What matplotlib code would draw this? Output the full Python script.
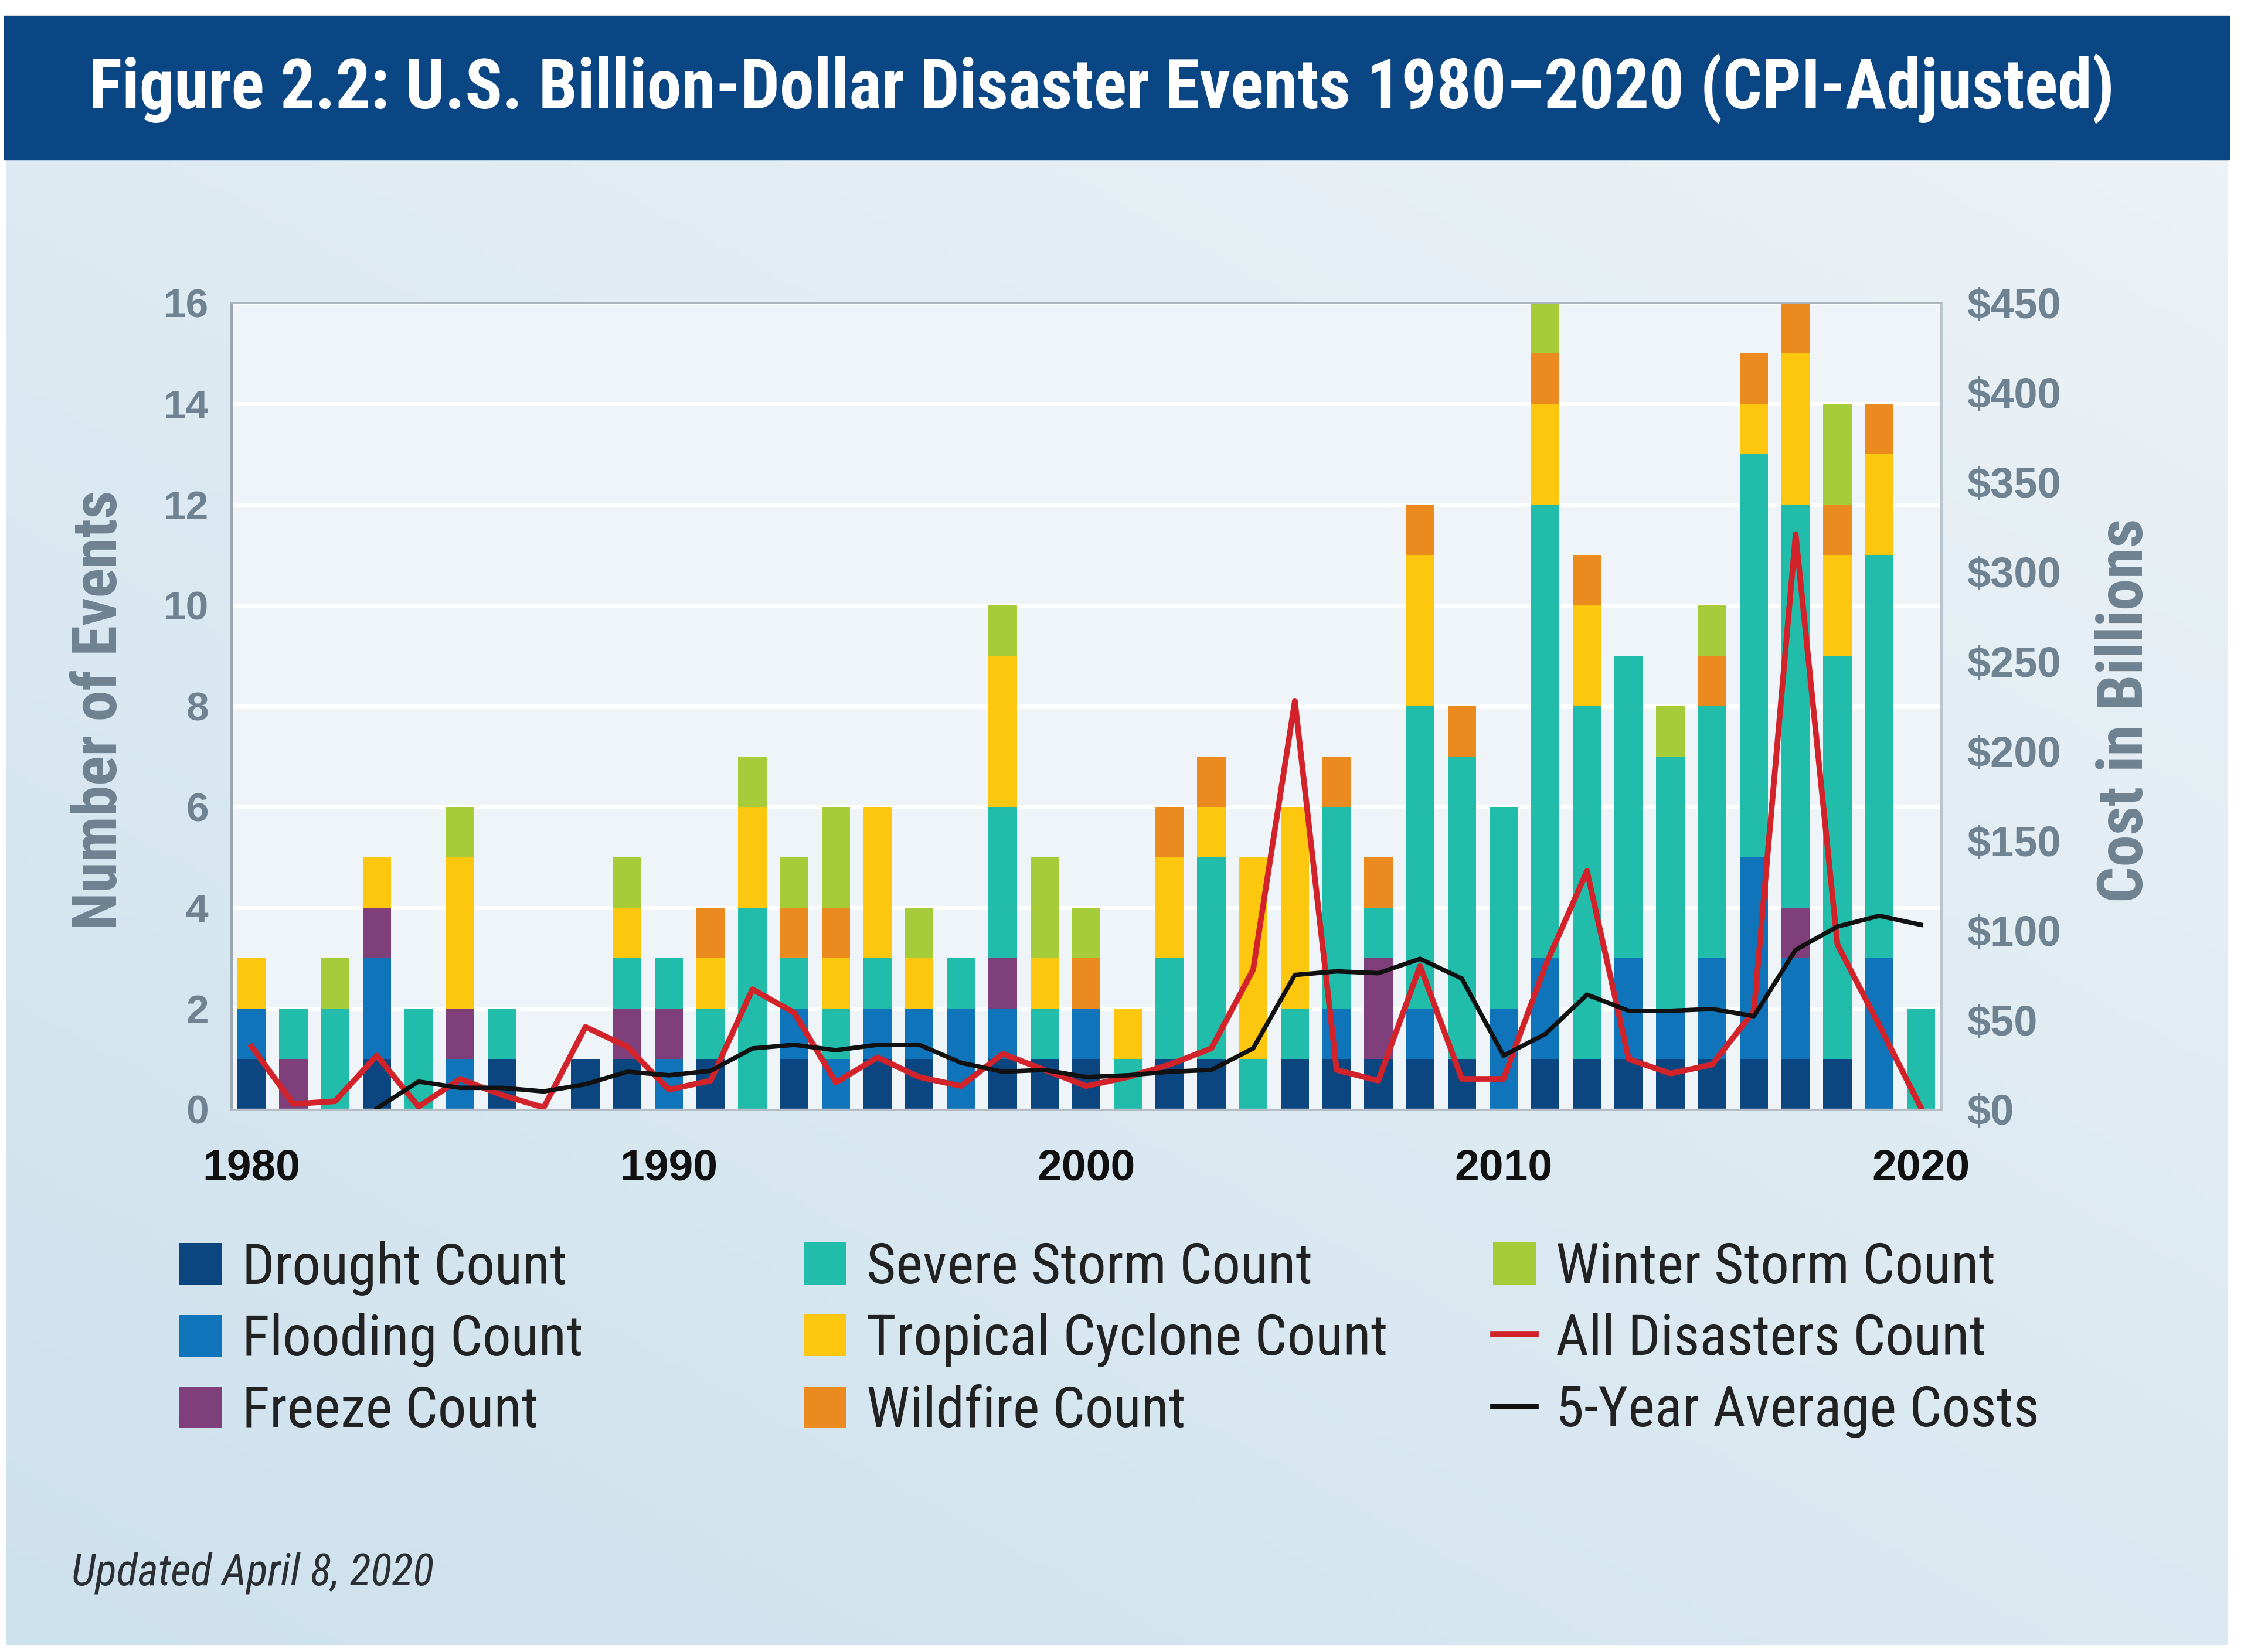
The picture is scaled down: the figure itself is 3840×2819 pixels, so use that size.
import numpy as np
import matplotlib
matplotlib.use("Agg")
from matplotlib import pyplot as plt
from matplotlib import font_manager
from matplotlib.patches import Patch, Rectangle
from matplotlib.lines import Line2D
from matplotlib.colors import LinearSegmentedColormap

# ---- data ----
years = list(range(1980, 2021))

drought  = [1,0,0,1,0,0,1,0,1,1, 0,1,0,1,0,1,1,0,1,1, 1,0,1,1,0,1,1,1,1,1, 0,1,1,1,1,1,1,1,1,0, 0]
flooding = [1,0,0,2,0,1,0,0,0,0, 1,0,0,1,1,1,1,2,1,0, 1,0,0,0,0,0,1,0,1,0, 2,2,0,2,1,2,4,2,0,3, 0]
freeze   = [0,1,0,1,0,1,0,0,0,1, 1,0,0,0,0,0,0,0,1,0, 0,0,0,0,0,0,0,2,0,0, 0,0,0,0,0,0,0,1,0,0, 0]
severe   = [0,1,2,0,2,0,1,0,0,1, 1,1,4,1,1,1,0,1,3,1, 0,1,2,4,1,1,4,1,6,6, 4,9,7,6,5,5,8,8,8,8, 2]
tropical = [1,0,0,1,0,3,0,0,0,1, 0,1,2,0,1,3,1,0,3,1, 0,1,2,1,4,4,0,0,3,0, 0,2,2,0,0,0,1,3,2,2, 0]
wildfire = [0,0,0,0,0,0,0,0,0,0, 0,1,0,1,1,0,0,0,0,0, 1,0,1,1,0,0,1,1,1,1, 0,1,1,0,0,1,1,1,1,1, 0]
winter   = [0,0,1,0,0,1,0,0,0,1, 0,0,1,1,2,0,1,0,1,2, 1,0,0,0,0,0,0,0,0,0, 0,1,0,0,1,1,0,0,2,0, 0]

# costs in billions of dollars (right axis)
all_costs = [35, 3, 4.5, 30, 1.5, 17, 8, 1, 46, 35,
             11, 16, 67, 54, 15, 29, 18, 13, 31, 22,
             13, 18, 25, 34, 78, 228, 22, 16, 80, 17,
             17, 80, 133, 28, 20, 25, 55, 321, 92, 47,
             1]
avg5_costs = [np.nan, np.nan, np.nan, 0.5, 15.5, 12, 12, 10, 14, 21,
              19, 21.5, 34, 36, 33, 36, 36, 26, 21, 22,
              18, 19, 21, 22, 34, 75, 77, 76, 84, 73,
              30, 42, 64, 55, 55, 56, 52, 89, 102, 108,
              103]

series = [("Drought Count", drought, "#0b4680"),
          ("Flooding Count", flooding, "#1074bb"),
          ("Freeze Count", freeze, "#7f3f7a"),
          ("Severe Storm Count", severe, "#21bcaa"),
          ("Tropical Cyclone Count", tropical, "#fdc60f"),
          ("Wildfire Count", wildfire, "#ea8a1f"),
          ("Winter Storm Count", winter, "#a6cc3a")]

title = "Figure 2.2: U.S. Billion-Dollar Disaster Events 1980\u20132020 (CPI-Adjusted)"

# ---- fonts ----
names = {f.name for f in font_manager.fontManager.ttflist}
narrow = next((n for n in ["Liberation Sans Narrow", "Roboto Condensed", "Open Sans Condensed"] if n in names), None)
if narrow is not None:
    cond = dict(family=[narrow, "DejaVu Sans"])
else:
    cond = dict(family=["DejaVu Sans"], fontstretch="condensed")
wide = ["Liberation Sans", "DejaVu Sans"]

W, H = 3840, 2819
fig = plt.figure(figsize=(W / 100, H / 100), dpi=100, facecolor="white")

def fx(px):
    return px / W

def fy(py):
    return 1 - py / H

# background panel with soft gradient
bg = fig.add_axes([fx(10), fy(2807), fx(3790), (2807 - 272) / H])
gx, gy = np.meshgrid(np.linspace(0, 1, 200), np.linspace(0, 1, 200))
grad = 0.45 * (1 - gx) + 0.55 * (1 - gy)
cmap = LinearSegmentedColormap.from_list("bg", ["#ecf2f6", "#cde1ed"])
bg.imshow(grad, cmap=cmap, aspect="auto", extent=[0, 1, 0, 1], origin="lower")
bg.axis("off")

# title banner
fig.patches.append(Rectangle((fx(7), fy(272)), fx(3796), (272 - 27) / H,
                             transform=fig.transFigure, color="#0b4684", zorder=1))
fig.text(fx(1880), fy(152), title, color="white", fontsize=85, fontweight="bold",
         ha="center", va="center", **cond)

# ---- main chart ----
ax = fig.add_axes([fx(395), fy(1893), fx(3311 - 395), (1893 - 517) / H])
ax.set_facecolor("#eef4f7")
x = np.array(years)
bottom = np.zeros(len(years))
for label, vals, color in series:
    ax.bar(x, vals, width=0.68, bottom=bottom, color=color, label=label, zorder=2)
    bottom += np.array(vals)

ax.set_xlim(1979.52, 2020.48)
ax.set_ylim(0, 16)
ax.set_yticks(range(0, 17, 2))
ax.set_xticks([1980, 1990, 2000, 2010, 2020])
ax.set_axisbelow(True)
ax.yaxis.grid(True, color="white", lw=5)
ax.tick_params(axis="both", length=0)
ax.tick_params(axis="y", pad=28, labelsize=50, labelcolor="#6e8291")
ax.tick_params(axis="x", pad=48, labelsize=54, labelcolor="#111111")
for t in ax.get_yticklabels():
    t.set_fontweight("bold")
    t.set_family(wide)
for t in ax.get_xticklabels():
    t.set_fontweight("bold")
    t.set_family(wide)

for side, c, lw in [("left", "#9aa7b1", 3.5), ("right", "#b9c4cc", 3.5),
                    ("top", "#aab5bd", 1.5), ("bottom", "#b4bdc5", 2.5)]:
    ax.spines[side].set_color(c)
    ax.spines[side].set_linewidth(lw)

ax2 = ax.twinx()
ax2.set_ylim(0, 450)
ax2.set_yticks(range(0, 451, 50))
ax2.set_yticklabels(["$%d" % v for v in range(0, 451, 50)])
ax2.tick_params(axis="y", length=0, pad=32, labelsize=52, labelcolor="#6e8291")
for t in ax2.get_yticklabels():
    t.set_fontweight("bold")
    t.set_family(wide)
for s in ax2.spines.values():
    s.set_visible(False)
ax2.plot(x, all_costs, color="#d2232a", lw=7, zorder=3)
ax2.plot(x, avg5_costs, color="#111111", lw=5.5, zorder=3)

fig.text(fx(171), fy(1212), "Number of Events", rotation=90, ha="center", va="center",
         fontsize=76, fontweight="bold", color="#6e8291", **cond)
fig.text(fx(3625), fy(1212), "Cost in Billions", rotation=90, ha="center", va="center",
         fontsize=78, fontweight="bold", color="#6e8291", **cond)

# ---- legend, three columns ----
handles = [Patch(facecolor=c, label=l) for l, _, c in series]
handles.append(Line2D([], [], color="#d2232a", lw=7, label="All Disasters Count"))
handles.append(Line2D([], [], color="#111111", lw=7, label="5-Year Average Costs"))
cols = [handles[0:3], handles[3:6], handles[6:9]]
col_x = [306, 1371, 2547]
for hs, cx in zip(cols, col_x):
    leg = fig.legend(handles=hs, loc="upper left", bbox_to_anchor=(fx(cx), fy(2118)),
                     frameon=False, borderpad=0, borderaxespad=0,
                     handlelength=0.75, handleheight=0.75, handletextpad=0.35,
                     labelspacing=0.31, prop=dict(size=70, **cond))
    for t in leg.get_texts():
        t.set_color("#222222")

fig.text(fx(122), fy(2684), "Updated April 8, 2020", fontsize=54, fontstyle="italic",
         color="#2b2f33", ha="left", va="center", **cond)

fig.savefig("out.png", dpi=100, facecolor="white")
